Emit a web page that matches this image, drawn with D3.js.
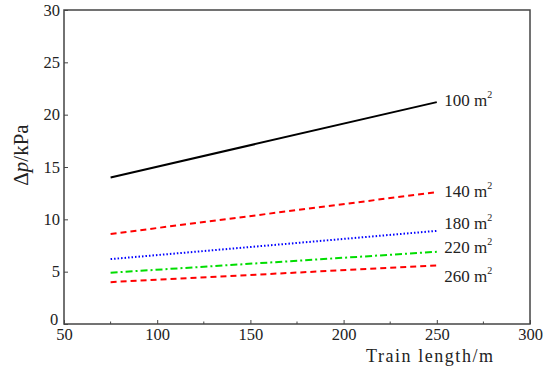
<!DOCTYPE html>
<html>
<head>
<meta charset="utf-8">
<script src="https://cdn.jsdelivr.net/npm/d3@7"></script>
<style>
  html, body { margin: 0; padding: 0; background: #fff; }
  svg text { font-family: "Liberation Serif", "Times New Roman", serif; fill: #222; }
</style>
</head>
<body>
<div id="chart"></div>
<script>
// train length (m) at the two ends of each line
const lengths = [75, 250];
const areas = ["100", "140", "180", "220", "260"];
const dp100 = [14.0, 21.2];
const dp140 = [8.6, 12.6];
const dp180 = [6.2, 8.9];
const dp220 = [4.9, 6.9];
const dp260 = [4.0, 5.6];
const labelPos = [20.8, 12.1, 9.05, 6.75, 4.0];
const xTicks = [50, 100, 150, 200, 250, 300];
const yTicks = [0, 5, 10, 15, 20, 25, 30];

const width = 557, height = 371;
const margin = { top: 10, right: 27, bottom: 47, left: 64 };

const series = [
  { name: areas[0], vals: dp100, color: "#000", dash: null },
  { name: areas[1], vals: dp140, color: "#ff0000", dash: "6,4" },
  { name: areas[2], vals: dp180, color: "#0000ff", dash: "1.5,2" },
  { name: areas[3], vals: dp220, color: "#00dd00", dash: "7,3,2,3" },
  { name: areas[4], vals: dp260, color: "#ff0000", dash: "6,4" }
];

const svg = d3.select("#chart").append("svg")
  .attr("width", width)
  .attr("height", height);

const x = d3.scaleLinear().domain([50, 300]).range([margin.left, width - margin.right]);
const y = d3.scaleLinear().domain([0, 30]).range([height - margin.bottom, margin.top]);

// frame
svg.append("rect")
  .attr("x", x(50)).attr("y", y(30))
  .attr("width", x(300) - x(50)).attr("height", y(0) - y(30))
  .attr("fill", "none").attr("stroke", "#444").attr("stroke-width", 1.5);

// x axis, ticks pointing inward
const xAxis = svg.append("g")
  .attr("transform", "translate(0," + y(0) + ")")
  .call(d3.axisBottom(x).tickValues(xTicks).tickSizeInner(-4).tickSizeOuter(0).tickPadding(5));
xAxis.select(".domain").remove();
xAxis.selectAll("line").attr("stroke", "#444");
xAxis.selectAll("text").attr("font-size", 16.5).attr("fill", "#222").attr("dy", "0.68em");

// minor x ticks
svg.append("g").selectAll("line")
  .data([75, 125, 175, 225, 275])
  .enter().append("line")
  .attr("x1", d => x(d)).attr("x2", d => x(d))
  .attr("y1", y(0)).attr("y2", y(0) - 2.5)
  .attr("stroke", "#444");

// y axis
const yAxis = svg.append("g")
  .attr("transform", "translate(" + x(50) + ",0)")
  .call(d3.axisLeft(y).tickValues(yTicks).tickSizeInner(-4).tickSizeOuter(0).tickPadding(4));
yAxis.select(".domain").remove();
yAxis.selectAll("line").attr("stroke", "#444");
yAxis.selectAll("text").attr("font-size", 16.5).attr("fill", "#222")
  .attr("dy", d => d === 0 ? "0.05em" : "0.32em")
  .attr("dx", d => d === 0 ? "-0.1em" : null);

// lines
const line = d3.line()
  .x((d, i) => x(lengths[i]))
  .y(d => y(d));

series.forEach((s, i) => {
  svg.append("path")
    .attr("d", line(s.vals))
    .attr("fill", "none")
    .attr("stroke", s.color)
    .attr("stroke-width", 2)
    .attr("stroke-dasharray", s.dash);

  const t = svg.append("text")
    .attr("x", x(254))
    .attr("y", y(labelPos[i]))
    .attr("font-size", 17);
  t.append("tspan").text(s.name + " m");
  t.append("tspan").attr("font-size", 10).attr("dy", -8).text("2");
});

// axis titles
const yl = svg.append("text")
  .attr("transform", "translate(28,155) rotate(-90)")
  .attr("text-anchor", "middle")
  .attr("font-size", 21);
yl.append("tspan").text("Δ");
yl.append("tspan").attr("font-style", "italic").text("p");
yl.append("tspan").text("/kPa");

svg.append("text")
  .attr("x", 366).attr("y", 362)
  .attr("font-size", 18)
  .attr("textLength", 127)
  .attr("lengthAdjust", "spacing")
  .text("Train length/m");
</script>
</body>
</html>
